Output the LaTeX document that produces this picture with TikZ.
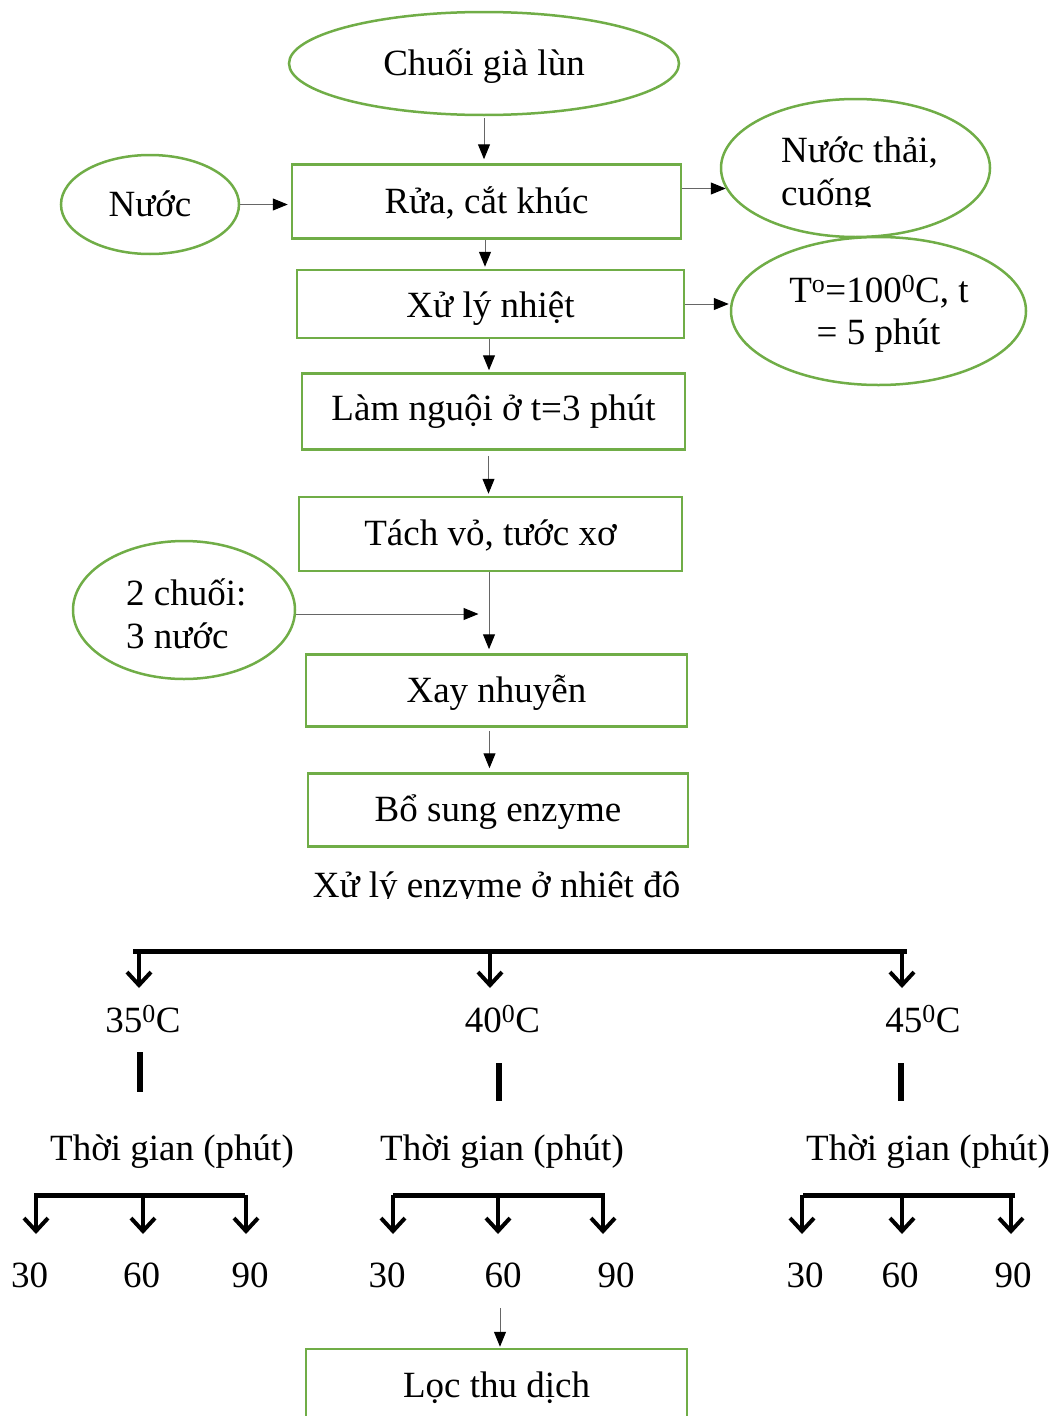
\documentclass[tikz,border=0pt]{standalone}
\usepackage{fontspec}
\setmainfont{Liberation Serif}
\usetikzlibrary{arrows.meta,shapes.geometric,calc}
\definecolor{leaf}{RGB}{112,173,71}
\tikzset{
  box/.style={draw=leaf,line width=2.5pt,inner sep=0pt,text height=26.5pt,text depth=3.5pt},
  oval/.style={ellipse,draw=leaf,line width=2.5pt,inner sep=0pt,text height=26.5pt,text depth=3.5pt},
  flow/.style={draw=black!60,line width=1pt,shorten >=4pt,
    -{Triangle[length=15pt,width=12pt,color=black]}},
  fork/.style={line width=5pt},
  drop/.style={line width=4pt,-{Straight Barb[length=13pt,width=24pt,line width=4pt]}},
  lbl/.style={inner sep=0pt,anchor=base},
}
\begin{document}
\begin{tikzpicture}[x=1pt,y=-1pt,every node/.style={font=\fontsize{37}{43}\selectfont}]
\useasboundingbox (0,0) rectangle (1059,1416);
\clip (0,0) rectangle (1059,1416);

% main process chain
\node[oval,minimum width=390pt,minimum height=103pt] (chuoi) at (484,63.5) {Chuối già lùn};
\node[box,minimum width=389pt,minimum height=74pt] (rua) at (486.5,201.5) {Rửa, cắt khúc};
\node[box,minimum width=387pt,minimum height=68pt,text height=28.5pt,text depth=1.5pt] (xuly) at (490.5,304) {Xử lý nhiệt};
\node[box,minimum width=383pt,minimum height=76pt,text height=24pt,text depth=6pt] (lam) at (493.5,411.5) {Làm nguội ở t=3 phút};
\node[box,minimum width=383pt,minimum height=74pt] (tach) at (490.5,534) {Tách vỏ, tước xơ};
\node[box,minimum width=381pt,minimum height=72pt] (xay) at (496.5,690.5) {Xay nhuyễn};
\node[box,minimum width=380pt,minimum height=73pt] (bo) at (498,810) {Bổ sung enzyme};
\node[box,minimum width=381pt,minimum height=74pt] (loc) at (496.5,1386) {Lọc thu dịch};

% side inputs and outputs
\node[oval,minimum width=178pt,minimum height=99pt] (nuoc) at (150,204.5) {Nước};
\node[oval,minimum width=269pt,minimum height=138pt] (thai) at (855.5,168) {};
\begin{scope}
  \clip (700,90) rectangle (1000,206);
  \node[lbl,anchor=base west] (thaiA) at (781,162) {Nước thải,};
  \node[lbl,anchor=base west] (thaiB) at (781,205) {cuống};
\end{scope}
\node[oval,minimum width=295pt,minimum height=148pt] (temp) at (878.5,311) {};
\node[lbl] (tempA) at (879,302) {T\textsuperscript{o}=100\textsuperscript{0}C, t};
\node[lbl] (tempB) at (878.5,344) {= 5 phút};
\node[oval,minimum width=222pt,minimum height=138pt] (hai) at (184,610) {};
\node[lbl,anchor=base west] (haiA) at (126,605) {2 chuối:};
\node[lbl,anchor=base west] (haiB) at (126,648) {3 nước};

% connectors of the chain
\draw[flow,shorten <=2pt] (chuoi.south) -- (chuoi.south |- rua.north);
\draw[flow,shorten >=3pt] (nuoc.east) -- (nuoc.east -| rua.west);
\draw[flow,shorten >=-6pt] ([yshift=13pt]rua.east) -- ([yshift=13pt]rua.east -| thai.west);
\draw[flow,shorten >=2pt] ([xshift=-1.5pt]rua.south) -- ([xshift=-1.5pt]rua.south |- xuly.north);
\draw[flow,shorten >=1pt] (xuly.east) -- (xuly.east -| temp.west);
\draw[flow,shorten >=2pt] ([xshift=-1.5pt]xuly.south) -- ([xshift=-1.5pt]xuly.south |- lam.north);
\draw[flow,shorten <=5pt,shorten >=2pt] ([xshift=-5pt]lam.south) -- ([xshift=-5pt]lam.south |- tach.north);
\draw[flow] ([xshift=-1.5pt]tach.south) -- ([xshift=-1.5pt]tach.south |- xay.north);
\draw[flow,shorten >=0pt] ([yshift=-4pt]hai.east) -- ([xshift=-12pt,yshift=-4pt]hai.east -| tach.south);
\draw[flow,shorten <=3pt] ([xshift=-7pt]xay.south) -- ([xshift=-7pt]xay.south |- bo.north);

% enzyme treatment heading
\begin{scope}
  \clip (250,850) rectangle (750,898);
  \node[lbl] (enz) at (496.5,897) {Xử lý enzyme ở nhiệt độ};
\end{scope}

% temperature fork
\coordinate (fL) at (133,951);
\coordinate (fR) at (907,951);
\draw[fork] (fL) -- (fR);
\foreach \ax/\tx/\tt/\bx/\ba/\bb in {139/143/35/140/1052/1092, 490/502.5/40/499/1063/1101, 902/923/45/901/1063/1101}{
  \coordinate (s\tt) at (\ax,951);
  \coordinate (e\tt) at (\ax,988);
  \draw[drop] (s\tt) -- (e\tt);
  \node[lbl] (t\tt) at (\tx,1032) {\tt\textsuperscript{0}C};
  \coordinate (u\tt) at (\bx,\ba);
  \coordinate (v\tt) at (\bx,\bb);
  \draw[line width=6pt] (u\tt) -- (v\tt);
}

% time forks
\foreach \g/\xa/\xb/\tc/\pa/\pb/\pc/\na/\nb/\nc in {
  1/34/245/172/36/143/246/29.5/141.5/250,
  2/393/605/502/393/498/603/387/503/616,
  3/803/1015/928/802/902/1011/805/900/1013}{
  \node[lbl] (tg\g) at (\tc,1160) {Thời gian (phút)};
  \coordinate (ba\g) at (\xa,1195);
  \coordinate (bb\g) at (\xb,1195);
  \draw[fork] (ba\g) -- (bb\g);
  \foreach \px/\nx/\n in {\pa/\na/30,\pb/\nb/60,\pc/\nc/90}{
    \coordinate (p\g\n) at (\px,1195);
    \coordinate (q\g\n) at (\px,1234);
    \draw[drop] (p\g\n) -- (q\g\n);
    \node[lbl] (n\g\n) at (\nx,1287) {\n};
  }
}

% filtration
\coordinate (lq) at (500,1308);
\draw[flow,shorten >=1pt] (lq) -- (lq |- loc.north);
\end{tikzpicture}
\end{document}
